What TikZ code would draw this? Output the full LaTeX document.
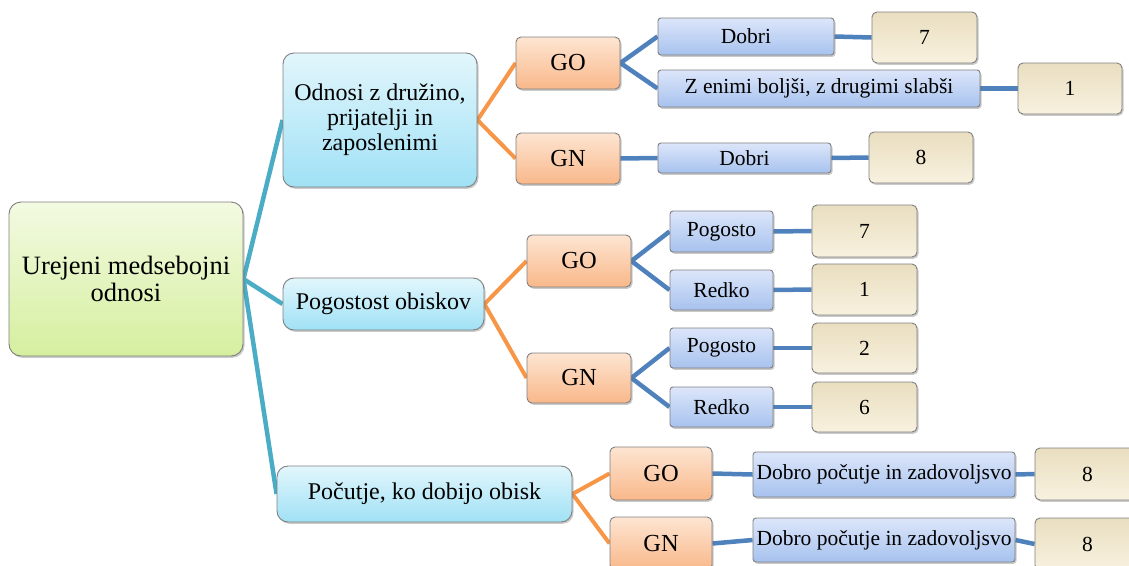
\documentclass[tikz,border=0pt]{standalone}
\usepackage{fontspec}
\setmainfont{Liberation Serif}
\usetikzlibrary{shadows,backgrounds}

\definecolor{tealline}{HTML}{4BACC6}
\definecolor{orangeline}{HTML}{F79646}
\definecolor{blueline}{HTML}{4F81BD}
\definecolor{edge}{HTML}{7F7F7F}

\tikzset{
  box/.style={draw=edge, line width=0.9pt, align=center, inner sep=2pt,
    drop shadow={shadow xshift=1.5pt, shadow yshift=-1.8pt, opacity=0.35, fill=black!60}},
  rootbox/.style={box, rounded corners=12pt, top color={rgb,255:red,243;green,250;blue,226}, bottom color={rgb,255:red,213;green,239;blue,158},
    font=\fontsize{26.5}{27.5}\selectfont},
  topicbox/.style={box, rounded corners=11pt, top color={rgb,255:red,226;green,246;blue,252}, bottom color={rgb,255:red,160;green,225;blue,245},
    font=\fontsize{24}{25}\selectfont},
  groupbox/.style={box, rounded corners=5pt, top color={rgb,255:red,253;green,229;blue,210}, bottom color={rgb,255:red,249;green,184;blue,138},
    font=\fontsize{24.5}{26}\selectfont},
  answerbox/.style={box, rounded corners=3pt, top color={rgb,255:red,220;green,230;blue,250}, bottom color={rgb,255:red,167;green,194;blue,238},
    font=\fontsize{21.5}{23}\selectfont},
  countbox/.style={box, rounded corners=5pt, top color={rgb,255:red,233;green,222;blue,192}, bottom color={rgb,255:red,248;green,241;blue,223},
    font=\fontsize{21.5}{23}\selectfont},
  tealconn/.style={tealline, line width=4.5pt},
  orangeconn/.style={orangeline, line width=4pt},
  blueconn/.style={blueline, line width=4.5pt},
}

\begin{document}
\begin{tikzpicture}[x=1pt, y=-1pt]
\useasboundingbox (0,0) rectangle (1129,565);

% root
\node[rootbox, minimum width=234pt, minimum height=154pt] (root) at (126,279) {Urejeni medsebojni\\odnosi};

% topics
\node[topicbox, minimum width=194pt, minimum height=134pt] (ta) at (380,120) {Odnosi z družino,\\prijatelji in\\zaposlenimi};
\node[topicbox, minimum width=201pt, minimum height=52pt] (tb) at (383.5,304) {Pogostost obiskov};
\node[topicbox, minimum width=295pt, minimum height=56pt] (tc) at (424.5,494) {Počutje, ko dobijo obisk};

% groups
\node[groupbox, minimum width=104pt, minimum height=52pt] (ago) at (568,63) {GO};
\node[groupbox, minimum width=104pt, minimum height=51pt] (agn) at (568,158.5) {GN};
\node[groupbox, minimum width=104pt, minimum height=52pt] (bgo) at (579,261) {GO};
\node[groupbox, minimum width=104pt, minimum height=50pt] (bgn) at (579,378) {GN};
\node[groupbox, minimum width=102pt, minimum height=53pt] (cgo) at (661,473.5) {GO};
\node[groupbox, minimum width=102pt, minimum height=53pt] (cgn) at (661,543.5) {GN};

% answers
\node[answerbox, minimum width=176pt, minimum height=37pt] (a1) at (746,36.5) {Dobri};
\node[answerbox, minimum width=322pt, minimum height=37pt] (a2) at (819,88.5) {Z enimi boljši, z drugimi slabši};
\node[answerbox, minimum width=173pt, minimum height=30pt] (a3) at (744.5,158) {Dobri};
\node[answerbox, minimum width=103pt, minimum height=41pt] (b1) at (721.5,231.5) {Pogosto};
\node[answerbox, minimum width=103pt, minimum height=40pt] (b2) at (721.5,290) {Redko};
\node[answerbox, minimum width=103pt, minimum height=40pt] (b3) at (721.5,348) {Pogosto};
\node[answerbox, minimum width=103pt, minimum height=40pt] (b4) at (721.5,407) {Redko};
\node[answerbox, minimum width=262pt, minimum height=45pt] (c1) at (884,474.5) {Dobro počutje in zadovoljsvo};
\node[answerbox, minimum width=262pt, minimum height=44pt] (c2) at (884,540) {Dobro počutje in zadovoljsvo};

% counts
\node[countbox, minimum width=105pt, minimum height=51pt] (n1) at (924.5,37.5) {7};
\node[countbox, minimum width=104pt, minimum height=51pt] (n2) at (1070,88.5) {1};
\node[countbox, minimum width=104pt, minimum height=51pt] (n3) at (921,157.5) {8};
\node[countbox, minimum width=105pt, minimum height=52pt] (n4) at (864.5,231) {7};
\node[countbox, minimum width=105pt, minimum height=51pt] (n5) at (864.5,289.5) {1};
\node[countbox, minimum width=105pt, minimum height=50pt] (n6) at (864.5,348) {2};
\node[countbox, minimum width=105pt, minimum height=50pt] (n7) at (864.5,407) {6};
\node[countbox, minimum width=105pt, minimum height=52pt] (n8) at (1087.5,474) {8};
\node[countbox, minimum width=105pt, minimum height=52pt] (n9) at (1087.5,544) {8};

% connectors
\begin{scope}[on background layer]
  \draw[tealconn, line join=round] (ta.west) -- (root.east) -- (tb.west);
  \draw[tealconn] (root.east) -- (tc.west);

  \draw[orangeconn] (ago.west) -- (ta.east) -- (agn.west);
  \draw[orangeconn] (bgo.west) -- (tb.east) -- (bgn.west);
  \draw[orangeconn] (cgo.west) -- (tc.east) -- (cgn.west);

  \draw[blueconn] (a1.west) -- (ago.east) -- (a2.west);
  \draw[blueconn] (agn.east) -- (a3.west);
  \draw[blueconn] (b1.west) -- (bgo.east) -- (b2.west);
  \draw[blueconn] (b3.west) -- (bgn.east) -- (b4.west);
  \draw[blueconn] (cgo.east) -- (c1.west);
  \draw[blueconn] (cgn.east) -- (c2.west);

  \draw[blueconn] (a1.east) -- (n1.west);
  \draw[blueconn] (a2.east) -- (n2.west);
  \draw[blueconn] (a3.east) -- (n3.west);
  \draw[blueconn] (b1.east) -- (n4.west);
  \draw[blueconn] (b2.east) -- (n5.west);
  \draw[blueconn] (b3.east) -- (n6.west);
  \draw[blueconn] (b4.east) -- (n7.west);
  \draw[blueconn] (c1.east) -- (n8.west);
  \draw[blueconn] (c2.east) -- (n9.west);
\end{scope}
\end{tikzpicture}
\end{document}
